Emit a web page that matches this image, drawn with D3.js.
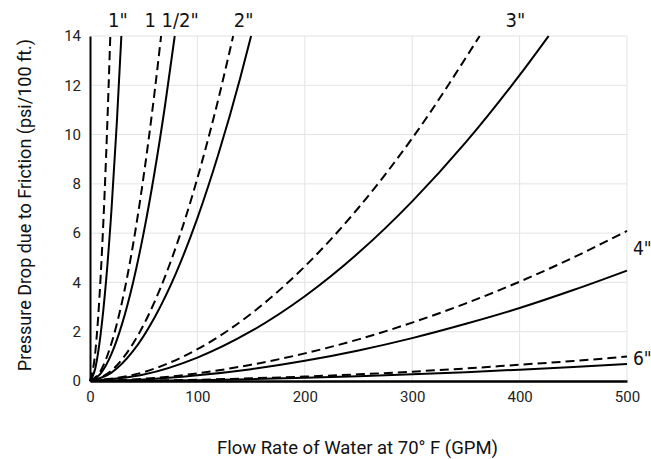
<!DOCTYPE html>
<html><head><meta charset="utf-8">
<script src="https://cdn.jsdelivr.net/npm/d3@7"></script>
<style>body{margin:0;background:#fff}svg{display:block}</style>
</head><body><svg id="c" width="651" height="459"></svg>
<script>
// ---- data (flow in GPM, pressure drop in psi/100 ft) ----
const xTicks = [0, 100, 200, 300, 400, 500];
const yTicks = [0, 2, 4, 6, 8, 10, 12, 14];
const pipeLabels = ['1"', '1 1/2"', '2"', '3"', '4"', '6"'];

const flow1D = [0, 5, 10, 15, 18.9];
const psi1D  = [0, 1.20, 4.31, 9.13, 14];
const flow1S = [0, 5, 10, 15, 20, 25, 29.2];
const psi1S  = [0, 0.53, 1.93, 4.08, 6.95, 10.5, 14];

const flow15D = [0, 10, 20, 30, 40, 50, 60, 66.2];
const psi15D  = [0, 0.42, 1.53, 3.24, 5.51, 8.33, 11.67, 14];
const flow15S = [0, 10, 20, 30, 40, 50, 60, 70, 78.9];
const psi15S  = [0, 0.31, 1.10, 2.34, 3.98, 6.02, 8.44, 11.22, 14];

const flow2D = [0, 20, 40, 60, 80, 100, 120, 133.3];
const psi2D  = [0, 0.42, 1.51, 3.20, 5.44, 8.23, 11.53, 14];
const flow2S = [0, 20, 40, 60, 80, 100, 120, 140, 150];
const psi2S  = [0, 0.34, 1.21, 2.57, 4.37, 6.61, 9.27, 12.32, 14];

const flow3D = [0, 50, 100, 150, 200, 250, 300, 362.8];
const psi3D  = [0, 0.36, 1.29, 2.73, 4.65, 7.03, 9.85, 14];
const flow3S = [0, 50, 100, 150, 200, 250, 300, 350, 400, 427];
const psi3S  = [0, 0.26, 0.95, 2.02, 3.44, 5.20, 7.29, 9.69, 12.41, 14];

const flowBig = [0, 50, 100, 150, 200, 250, 300, 350, 400, 450, 500];
const psi4D = [0, 0.09, 0.31, 0.66, 1.12, 1.69, 2.37, 3.15, 4.03, 5.01, 6.09];
const psi4S = [0, 0.06, 0.23, 0.48, 0.82, 1.24, 1.74, 2.32, 2.96, 3.69, 4.48];
const psi6D = [0, 0.014, 0.05, 0.11, 0.18, 0.27, 0.38, 0.51, 0.66, 0.81, 0.99];
const psi6S = [0, 0.01, 0.035, 0.074, 0.127, 0.19, 0.27, 0.36, 0.46, 0.57, 0.69];

const xTitle = 'Flow Rate of Water at 70\u00B0 F (GPM)';
const yTitle = 'Pressure Drop due to Friction (psi/100 ft.)';

// ---- drawing ----
const svg = d3.select('#c');
const m = {l: 90, r: 627, t: 36, b: 381};
const x = d3.scaleLinear().domain([0, 500]).range([m.l, m.r]);
const y = d3.scaleLinear().domain([0, 14]).range([m.b, m.t]);
const tickFont = 'Roboto, "Liberation Sans", sans-serif';
const labFont = '"Liberation Sans Narrow", "DejaVu Sans Condensed", sans-serif';

// grid
svg.append('g').selectAll('line.h').data(yTicks.filter(d => d > 0)).join('line')
  .attr('x1', m.l).attr('x2', m.r).attr('y1', d => y(d)).attr('y2', d => y(d))
  .attr('stroke', '#e3e3e3').attr('stroke-width', 1);
svg.append('g').selectAll('line.v').data(xTicks.filter(d => d > 0)).join('line')
  .attr('y1', m.t).attr('y2', m.b).attr('x1', d => x(d)).attr('x2', d => x(d))
  .attr('stroke', '#e3e3e3').attr('stroke-width', 1);

// axes
const xAxis = d3.axisBottom(x).tickValues(xTicks).tickSize(0).tickPadding(10);
const gx = svg.append('g').attr('transform', `translate(0,${m.b})`).call(xAxis);
gx.select('.domain').attr('stroke', '#000').attr('stroke-width', 2.5);
gx.selectAll('text').attr('font-family', tickFont).attr('font-size', 15).attr('fill', '#222');

const yAxis = d3.axisLeft(y).tickValues(yTicks).tickSize(0).tickPadding(9);
const gy = svg.append('g').attr('transform', `translate(${m.l},0)`).call(yAxis);
gy.select('.domain').attr('stroke', '#000').attr('stroke-width', 2);
gy.selectAll('text').attr('font-family', tickFont).attr('font-size', 15).attr('fill', '#222');

// curves
const line = d3.line().x(d => x(d[0])).y(d => y(d[1])).curve(d3.curveMonotoneX);
const zip = (a, b) => a.map((v, i) => [v, b[i]]);
const series = [
  {pts: zip(flow1D, psi1D), dash: true}, {pts: zip(flow1S, psi1S), dash: false},
  {pts: zip(flow15D, psi15D), dash: true}, {pts: zip(flow15S, psi15S), dash: false},
  {pts: zip(flow2D, psi2D), dash: true}, {pts: zip(flow2S, psi2S), dash: false},
  {pts: zip(flow3D, psi3D), dash: true}, {pts: zip(flow3S, psi3S), dash: false},
  {pts: zip(flowBig, psi4D), dash: true}, {pts: zip(flowBig, psi4S), dash: false},
  {pts: zip(flowBig, psi6D), dash: true}, {pts: zip(flowBig, psi6S), dash: false}
];
svg.append('g').selectAll('path').data(series).join('path')
  .attr('d', d => line(d.pts)).attr('fill', 'none').attr('stroke', '#000')
  .attr('stroke-width', 2).attr('stroke-dasharray', d => d.dash ? '9,5' : null);

// pipe size labels
const topLabelX = [26, 76, 143, 396]; // flow positions of top labels
svg.append('g').selectAll('text.top').data(pipeLabels.slice(0, 4)).join('text')
  .attr('x', (d, i) => x(topLabelX[i])).attr('y', 27).attr('text-anchor', 'middle')
  .attr('font-family', labFont).attr('font-size', 20).attr('fill', '#111').text(d => d);
const rightLabelY = [5.4, 0.9];
svg.append('g').selectAll('text.right').data(pipeLabels.slice(4)).join('text')
  .attr('x', m.r + 6).attr('y', (d, i) => y(rightLabelY[i])).attr('dy', '0.35em')
  .attr('font-family', labFont).attr('font-size', 19).attr('fill', '#111').text(d => d);

// titles
svg.append('text').attr('x', (m.l + m.r) / 2 - 1).attr('y', 454)
  .attr('text-anchor', 'middle').attr('font-family', tickFont).attr('font-size', 18.5)
  .attr('fill', '#111').text(xTitle);
svg.append('text').attr('transform', 'translate(31,205) rotate(-90)')
  .attr('text-anchor', 'middle').attr('font-family', tickFont).attr('font-size', 18)
  .attr('fill', '#111').text(yTitle);
</script></body></html>
